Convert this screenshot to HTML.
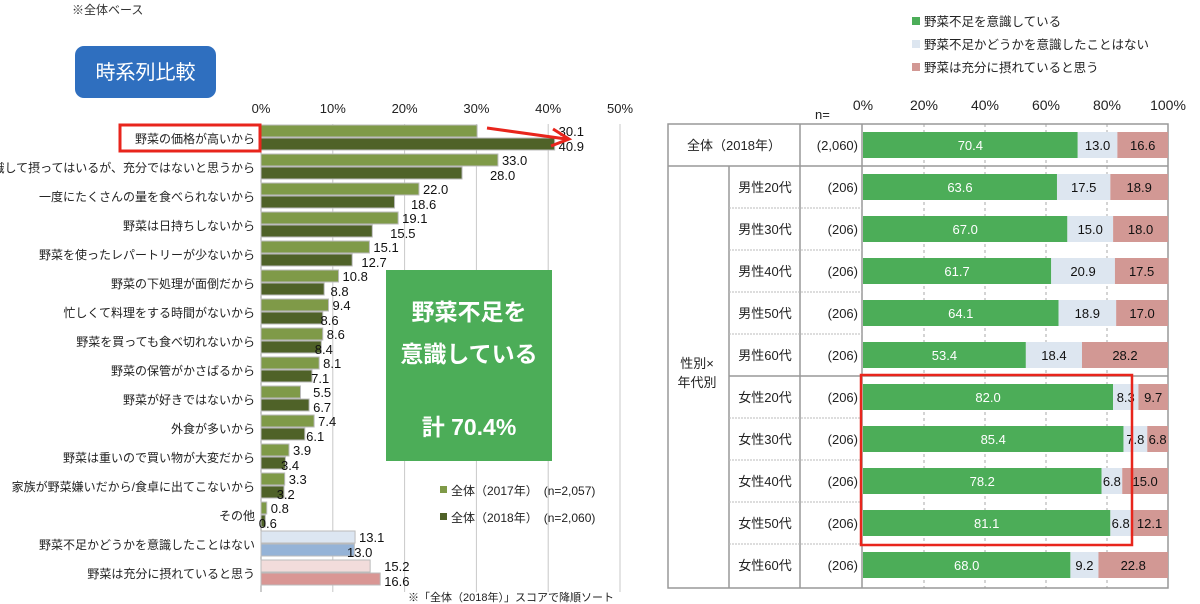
<!DOCTYPE html>
<html><head><meta charset="utf-8">
<style>
body{margin:0;background:#fff;font-family:"Liberation Sans","Noto Sans CJK JP",sans-serif;}
#wrap{position:relative;width:1200px;height:604px;overflow:hidden;}
svg text{font-family:"Liberation Sans","Noto Sans CJK JP",sans-serif;}
</style></head>
<body>
<div id="wrap">
<svg id="svg" width="1200" height="604" xmlns="http://www.w3.org/2000/svg">
  <text x="72" y="14" font-size="12" fill="#333">※全体ベース</text>
  <rect x="75" y="46" width="141" height="52" rx="9" fill="#2f6fbf"/>
  <text x="145.5" y="79" font-size="20" fill="#fff" text-anchor="middle">時系列比較</text>
  <g id="left"></g>
  <g id="right"></g>
</svg>
</div>
<script>
const leftCats=["野菜の価格が高いから","意識して摂ってはいるが、充分ではないと思うから","一度にたくさんの量を食べられないから","野菜は日持ちしないから","野菜を使ったレパートリーが少ないから","野菜の下処理が面倒だから","忙しくて料理をする時間がないから","野菜を買っても食べ切れないから","野菜の保管がかさばるから","野菜が好きではないから","外食が多いから","野菜は重いので買い物が大変だから","家族が野菜嫌いだから/食卓に出てこないから","その他","野菜不足かどうかを意識したことはない","野菜は充分に摂れていると思う"];
const vals2017=[30.1,33.0,22.0,19.1,15.1,10.8,9.4,8.6,8.1,5.5,7.4,3.9,3.3,0.8,13.1,15.2];
const vals2018=[40.9,28.0,18.6,15.5,12.7,8.8,8.6,8.4,7.1,6.7,6.1,3.4,3.2,0.6,13.0,16.6];
const leftTicks=["0%","10%","20%","30%","40%","50%"];
const rightCats=["全体（2018年）","男性20代","男性30代","男性40代","男性50代","男性60代","女性20代","女性30代","女性40代","女性50代","女性60代"];
const rightN=["(2,060)","(206)","(206)","(206)","(206)","(206)","(206)","(206)","(206)","(206)","(206)"];
const conscious=[70.4,63.6,67.0,61.7,64.1,53.4,82.0,85.4,78.2,81.1,68.0];
const never=[13.0,17.5,15.0,20.9,18.9,18.4,8.3,7.8,6.8,6.8,9.2];
const enough=[16.6,18.9,18.0,17.5,17.0,28.2,9.7,6.8,15.0,12.1,22.8];
const rightTicks=["0%","20%","40%","60%","80%","100%"];
const NS="http://www.w3.org/2000/svg";
function mk(p,tag,a,txt){const e=document.createElementNS(NS,tag);for(const k in a)e.setAttribute(k,a[k]);if(txt!==undefined)e.textContent=txt;p.appendChild(e);return e;}
// LEFT
const L=document.getElementById('left');
const lx=v=>261+v*7.18;
const ly=i=>138+i*29;
leftTicks.forEach((t,i)=>{
  const x=lx(i*10);
  const g=mk(L,'line',{x1:x,y1:124,x2:x,y2:592,stroke:i==0?'#999':'#c8c8c8','stroke-width':1});
  
  
  const tx=mk(L,'text',{x:x,y:113,'font-size':13,'text-anchor':'middle',fill:'#222'},t);
  
  
});
leftCats.forEach((c,i)=>{
  const cy=ly(i);
  let c1='#7f9a48',c2='#4f6228',s1='#bbb',s2='#bbb';
  if(i==14){c1='#dce6f2';c2='#95b3d7';}
  if(i==15){c1='#f2dcdb';c2='#d99694';}
  const t=mk(L,'text',{x:255,y:cy+5,'font-size':12,'text-anchor':'end',fill:'#222'},c);
  
  
  const b1=mk(L,'rect',{x:lx(0),y:cy-13,width:lx(vals2017[i])-lx(0),height:12,fill:c1,stroke:s1,'stroke-width':1});
  
  
  const b2=mk(L,'rect',{x:lx(0),y:cy,width:lx(vals2018[i])-lx(0),height:12,fill:c2,stroke:s2,'stroke-width':1});
  
  
  const v1=mk(L,'text',{x:lx(Math.max(vals2017[i],vals2018[i]))+4,y:cy-2,'font-size':13,fill:'#111'},vals2017[i].toFixed(1));
  
  
  const v2=mk(L,'text',{x:lx(Math.max(vals2017[i],vals2018[i]))+(vals2018[i]>=vals2017[i]?4:-8),y:cy+13,'font-size':13,fill:'#111'},vals2018[i].toFixed(1));
  
  
});
// red box & arrow
let rb=mk(L,'rect',{x:120,y:125,width:140,height:26,fill:'none',stroke:'#e8251c','stroke-width':3});


let ar=mk(L,'path',{d:'M487 128 L566 139 M553 129 L569 139 L551 146',fill:'none',stroke:'#e8251c','stroke-width':3});


// green callout
let gb=mk(L,'rect',{x:386,y:270,width:166,height:191,fill:'#4cad58'});


[["野菜不足を",320],["意識している",362],["計  70.4%",435]].forEach(([s,y])=>{
  const t=mk(L,'text',{x:469,y:y,'font-size':23,'font-weight':'bold','text-anchor':'middle',fill:'#fff'},s);
  
  
});
[["#7f9a48","全体（2017年）　(n=2,057)",495],["#4f6228","全体（2018年）　(n=2,060)",522]].forEach(([c,s,y])=>{
  const r=mk(L,'rect',{x:440,y:y-9,width:7,height:7,fill:c});
  
  
  const t=mk(L,'text',{x:451,y:y,'font-size':12,fill:'#222'},s);
  
  
});
let fn=mk(L,'text',{x:408,y:601,'font-size':11,fill:'#222'},'※「全体（2018年）」スコアで降順ソート');


// RIGHT
const R=document.getElementById('right');
const rx=v=>863+v*3.05;
const ry=i=>145+i*42;
[["#4cad58","野菜不足を意識している",26],["#dde6f0","野菜不足かどうかを意識したことはない",49],["#d29894","野菜は充分に摂れていると思う",72]].forEach(([c,s,y])=>{
  const r=mk(R,'rect',{x:912,y:y-9,width:8,height:8,fill:c});
  
  
  const t=mk(R,'text',{x:924,y:y,'font-size':12.5,fill:'#222'},s);
  
  
});
let nl=mk(R,'text',{x:815,y:119,'font-size':13,fill:'#222'},'n=');


rightTicks.forEach((t,i)=>{
  const x=rx(i*20);
  const tx=mk(R,'text',{x:x,y:110,'font-size':14,'text-anchor':'middle',fill:'#222'},t);
  
  
  if(i>0){const g=mk(R,'line',{x1:x,y1:124,x2:x,y2:588,stroke:'#aaa','stroke-dasharray':'3,3'});
  
  }
});
// table frame
const frame=mk(R,'path',{d:'M668 124 H1168 V588 H668 Z M668 166 H1168 M800 124 V588 M862 124 V588 M729 166 V588 M729 376 H1168',fill:'none',stroke:'#999','stroke-width':1.5});


for(let i=1;i<rightCats.length-1;i++){ if(i==5)continue;
  const y=ry(i)+21;
  const l=mk(R,'line',{x1:729,y1:y,x2:862,y2:y,stroke:'#bbb','stroke-dasharray':'2,1'});
  
  
}
let gl=mk(R,'text',{x:697,y:368,'font-size':13,'text-anchor':'middle',fill:'#222'},'性別×');


let gl2=mk(R,'text',{x:697,y:387,'font-size':13,'text-anchor':'middle',fill:'#222'},'年代別');


rightCats.forEach((c,i)=>{
  const cy=ry(i);
  const t=mk(R,'text',{x:i==0?734:765,y:cy+5,'font-size':13,'text-anchor':'middle',fill:'#222'},c);
  
  
  const n=mk(R,'text',{x:858,y:cy+5,'font-size':13,'text-anchor':'end',fill:'#222'},rightN[i]);
  
  
  let acc=0;
  [[conscious,'#4cad58','#fff','bar-conscious'],[never,'#dde6f0','#111','bar-never-considered'],[enough,'#d29894','#111','bar-enough']].forEach(([arr,col,tc,nm])=>{
    const v=arr[i];
    const r=mk(R,'rect',{x:rx(acc),y:cy-13,width:rx(acc+v)-rx(acc),height:26,fill:col});
    
    
    const tt=mk(R,'text',{x:(rx(acc)+rx(acc+v))/2,y:cy+5,'font-size':13,'text-anchor':'middle',fill:tc},v.toFixed(1));
    
    
    acc+=v;
  });
});
let rr=mk(R,'rect',{x:861,y:375,width:271,height:170,fill:'none',stroke:'#e8251c','stroke-width':2.5});


</script>
</body></html>
